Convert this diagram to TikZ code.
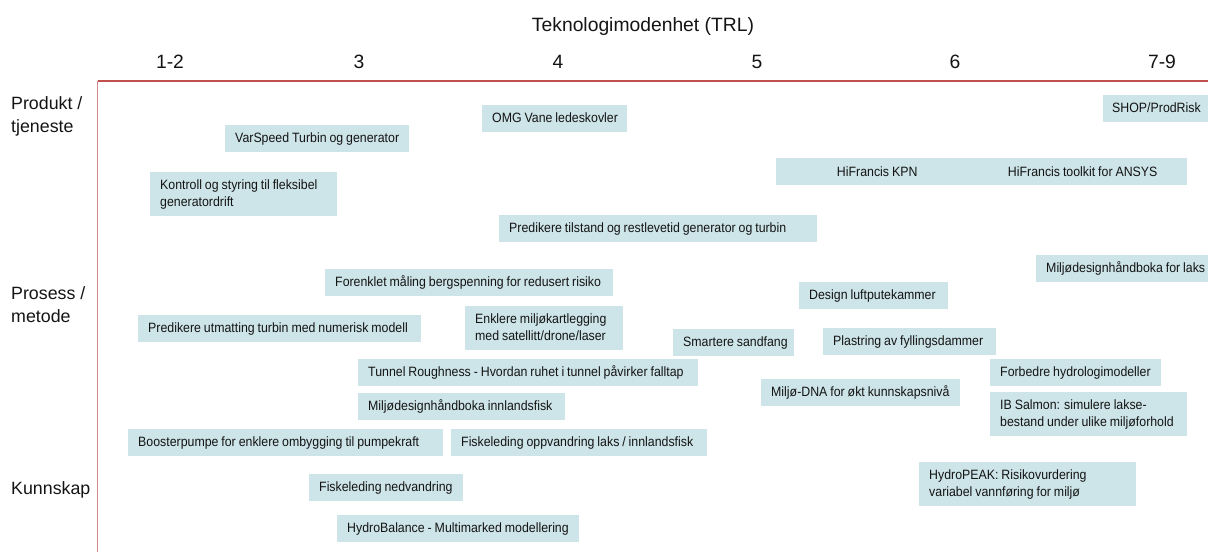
\documentclass[tikz,border=0pt]{standalone}
\usepackage{fontspec}
\setmainfont{Liberation Sans}
\newfontfamily\boxfont[FakeStretch=0.915, WordSpace=0.85]{Liberation Sans}
\newfontfamily\axfont{Liberation Sans}
\definecolor{boxc}{HTML}{CDE4E8}
\definecolor{txtc}{HTML}{141414}
\definecolor{axh}{HTML}{C0504D}
\definecolor{axv}{HTML}{D28A8A}
\newcommand{\itm}[2]{\makebox[#1][l]{\begin{tabular}{@{}l@{}}#2\end{tabular}}}
\tikzset{
  itembox/.style={fill=boxc, inner xsep=10pt, inner ysep=0pt, anchor=north west,
    text=txtc, font=\boxfont\fontsize{13.5}{16.9}\selectfont},
  one/.style={minimum height=27pt},
  two/.style={minimum height=44pt},
  ctrbox/.style={fill=boxc, inner sep=0pt, anchor=north west, text=txtc,
    font=\boxfont\fontsize{13.5}{16.9}\selectfont, minimum height=27pt},
  trl/.style={font=\axfont\fontsize{19.3}{22}\selectfont, text=txtc, inner sep=0pt},
  rowlab/.style={font=\axfont\fontsize{17.8}{23}\selectfont, text=txtc, anchor=west,
    align=left, inner sep=0pt},
}
\begin{document}
\begin{tikzpicture}[x=1pt,y=-1pt]
\useasboundingbox (0,0) rectangle (1208,552);
% axes
\coordinate (o) at (97.5,81);
\coordinate (hr) at (1208,81);
\coordinate (vb) at (97.5,552);
\draw[axh, line width=1.3pt] (o) -- (hr);
\draw[axv, line width=1.6pt] (o) -- (vb);
% titles
\node[trl] (title) at (643,27) {Teknologimodenhet (TRL)};
\node[trl] (t12) at (170,62) {1-2};
\node[trl] (t3) at (359,62) {3};
\node[trl] (t4) at (558,62) {4};
\node[trl] (t5) at (757,62) {5};
\node[trl] (t6) at (955,62) {6};
\node[trl] (t79) at (1162,62) {7-9};
\node[rowlab] (r1) at (11,116.5) {Produkt /\\tjeneste};
\node[rowlab] (r2) at (11,305) {Prosess /\\metode};
\node[rowlab] (r3) at (11,490) {Kunnskap};
% boxes
\node[itembox, one] (b1) at (225,125) {\itm{164pt}{VarSpeed Turbin og generator}};
\node[itembox, one] (b2) at (482,105) {\itm{125pt}{OMG Vane ledeskovler}};
\node[itembox, one, inner xsep=9pt] (b3) at (1103,95) {\itm{87pt}{SHOP/ProdRisk}};
\node[itembox, two] (b4) at (150,172) {\itm{167pt}{Kontroll og styring til fleksibel\\generatordrift}};
\node[ctrbox, minimum width=202pt] (b5) at (776,158) {HiFrancis KPN};
\node[ctrbox, minimum width=209pt] (b6) at (978,158) {HiFrancis toolkit for ANSYS};
\node[itembox, one] (b7) at (499,215) {\itm{298pt}{Predikere tilstand og restlevetid generator og turbin}};
\node[itembox, one] (b8) at (325,269) {\itm{268pt}{Forenklet måling bergspenning for redusert risiko}};
\node[itembox, one, inner xsep=3pt] (b9) at (1036,255) {\itm{166pt}{\hspace*{7pt}Miljødesignhåndboka for laks}};
\node[itembox, one] (b10) at (799,282) {\itm{129pt}{Design luftputekammer}};
\node[itembox, one] (b11) at (138,315) {\itm{263pt}{Predikere utmatting turbin med numerisk modell}};
\node[itembox, two] (b12) at (465,306) {\itm{138pt}{Enklere miljøkartlegging\\med satellitt/drone/laser}};
\node[itembox, one] (b13) at (673,329) {\itm{101pt}{Smartere sandfang}};
\node[itembox, one] (b14) at (823,328) {\itm{153pt}{Plastring av fyllingsdammer}};
\node[itembox, one] (b15) at (358,359) {\itm{320pt}{Tunnel Roughness - Hvordan ruhet i tunnel påvirker falltap}};
\node[itembox, one] (b16) at (990,359) {\itm{151pt}{Forbedre hydrologimodeller}};
\node[itembox, one] (b17) at (761,379) {\itm{179pt}{Miljø-DNA for økt kunnskapsnivå}};
\node[itembox, one] (b18) at (358,393) {\itm{187pt}{Miljødesignhåndboka innlandsfisk}};
\node[itembox, two] (b19) at (990,392) {\itm{177pt}{IB Salmon: simulere lakse-\\bestand under ulike miljøforhold}};
\node[itembox, one] (b20) at (128,429) {\itm{295pt}{Boosterpumpe for enklere ombygging til pumpekraft}};
\node[itembox, one] (b21) at (451,429) {\itm{236pt}{Fiskeleding oppvandring laks / innlandsfisk}};
\node[itembox, two] (b22) at (919,462) {\itm{197pt}{HydroPEAK: Risikovurdering\\variabel vannføring for miljø}};
\node[itembox, one] (b23) at (309,474) {\itm{134pt}{Fiskeleding nedvandring}};
\node[itembox, one] (b24) at (337,515) {\itm{222pt}{HydroBalance - Multimarked modellering}};
\end{tikzpicture}
\end{document}
